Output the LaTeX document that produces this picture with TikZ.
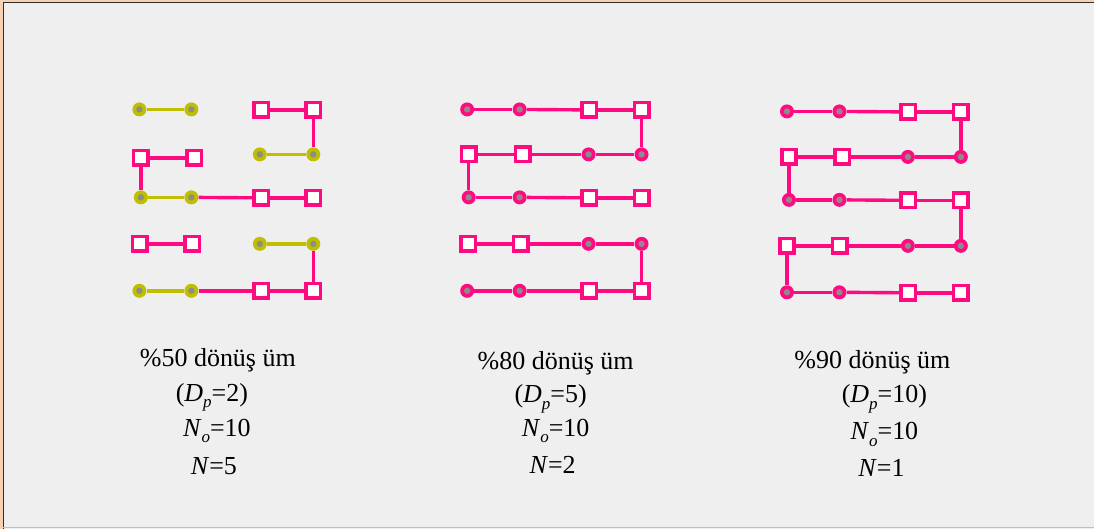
\documentclass[tikz,border=0pt]{standalone}
\usepackage{fontspec}
\setmainfont{Liberation Serif}
\definecolor{bg}{HTML}{EFEFEF}
\definecolor{rose}{HTML}{FF0A80}
\definecolor{olive}{HTML}{BFBF00}
\definecolor{core}{HTML}{8C8C8C}
\definecolor{frame}{HTML}{2F2F2F}
\definecolor{rim}{HTML}{F6D2B4}
\newcommand{\lowidx}[1]{\raisebox{-6.5pt}{\fontsize{17}{17}\selectfont\itshape #1}}
\tikzset{
  sq/.style={rectangle, draw=rose, fill=white, line width=3.6pt, minimum size=14.5pt, inner sep=0pt},
  dotbase/.style={circle, minimum size=14pt, inner sep=0pt,
    path picture={\fill[core] (path picture bounding box.center) circle (3.2pt);}},
  cy/.style={dotbase, fill=olive},
  cp/.style={dotbase, fill=rose},
  lp/.style={draw=rose, line width=3.4pt},
  ly/.style={draw=olive, line width=3.4pt},
  lbl/.style={anchor=base, inner sep=0pt, font=\fontsize{26}{30}\selectfont}
}
\begin{document}
\begin{tikzpicture}[x=1pt, y=-1pt]
% page and frame
\fill[rim] (0,0) rectangle (1095,529);
\fill[bg] (3,2) rectangle (1095,529);
\draw[frame, line width=1.2pt] (3.6,529) -- (3.6,2.6) -- (1095,2.6);
\draw[black!25, line width=1.5pt] (3,528) -- (1095,528);
\useasboundingbox (0,0) rectangle (1095,529);

% ---------- 50% conversion ----------
\node[cy] (a11) at (139.5,109.5) {};
\node[cy] (a12) at (191.5,109.5) {};
\node[sq] (a13) at (261.5,110) {};
\node[sq] (a14) at (313.5,110) {};
\node[sq] (a21) at (141,158) {};
\node[sq] (a22) at (194.5,158) {};
\node[cy] (a23) at (260,154.5) {};
\node[cy] (a24) at (313.5,154.5) {};
\node[cy] (a31) at (141,197.5) {};
\node[cy] (a32) at (191.5,197.5) {};
\node[sq] (a33) at (261.5,198) {};
\node[sq] (a34) at (313.5,198) {};
\node[sq] (a41) at (140,244) {};
\node[sq] (a42) at (192.5,244) {};
\node[cy] (a43) at (260,244) {};
\node[cy] (a44) at (313.5,244) {};
\node[cy] (a51) at (139.5,291) {};
\node[cy] (a52) at (191.5,291) {};
\node[sq] (a53) at (261.5,291) {};
\node[sq] (a54) at (313.5,291) {};
\draw[ly] (a11) -- (a12);
\draw[lp] (a13) -- (a14);
\draw[lp] (a14) -- (a24);
\draw[lp] (a21) -- (a22);
\draw[ly] (a23) -- (a24);
\draw[lp] (a21) -- (a31);
\draw[ly] (a31) -- (a32);
\draw[lp] (a32) -- (a33);
\draw[lp] (a33) -- (a34);
\draw[lp] (a41) -- (a42);
\draw[ly] (a43) -- (a44);
\draw[lp] (a44) -- (a54);
\draw[ly] (a51) -- (a52);
\draw[lp] (a52) -- (a53);
\draw[lp] (a53) -- (a54);

\node[lbl] (ta1) at (218,366.5) {\%50 dönüş üm};
\node[lbl] (ta2) at (212,401.5) {(\textit{D}\lowidx{p}=2)};
\node[lbl] (ta3) at (217,436.5) {\textit{N}\lowidx{o}=10};
\node[lbl] (ta4) at (214,475) {\textit{N}=5};

% ---------- 80% conversion ----------
\node[cp] (b11) at (467.5,109.5) {};
\node[cp] (b12) at (520,109.5) {};
\node[sq] (b13) at (589.5,110) {};
\node[sq] (b14) at (642,110) {};
\node[sq] (b21) at (469,154.5) {};
\node[sq] (b22) at (523,154.5) {};
\node[cp] (b23) at (589,154.5) {};
\node[cp] (b24) at (642,154.5) {};
\node[cp] (b31) at (469,197.5) {};
\node[cp] (b32) at (520,197.5) {};
\node[sq] (b33) at (589.5,198) {};
\node[sq] (b34) at (642,198) {};
\node[sq] (b41) at (468.5,244) {};
\node[sq] (b42) at (521,244) {};
\node[cp] (b43) at (589,244) {};
\node[cp] (b44) at (642,244) {};
\node[cp] (b51) at (467.5,291) {};
\node[cp] (b52) at (520,291) {};
\node[sq] (b53) at (589.5,291) {};
\node[sq] (b54) at (642,291) {};
\draw[lp] (b11) -- (b12);
\draw[lp] (b12) -- (b13);
\draw[lp] (b13) -- (b14);
\draw[lp] (b14) -- (b24);
\draw[lp] (b21) -- (b22);
\draw[lp] (b22) -- (b23);
\draw[lp] (b23) -- (b24);
\draw[lp] (b21) -- (b31);
\draw[lp] (b31) -- (b32);
\draw[lp] (b32) -- (b33);
\draw[lp] (b33) -- (b34);
\draw[lp] (b41) -- (b42);
\draw[lp] (b42) -- (b43);
\draw[lp] (b43) -- (b44);
\draw[lp] (b44) -- (b54);
\draw[lp] (b51) -- (b52);
\draw[lp] (b52) -- (b53);
\draw[lp] (b53) -- (b54);

\node[lbl] (tb1) at (556,370) {\%80 dönüş üm};
\node[lbl] (tb2) at (551,403) {(\textit{D}\lowidx{p}=5)};
\node[lbl] (tb3) at (556,436.5) {\textit{N}\lowidx{o}=10};
\node[lbl] (tb4) at (553,473.5) {\textit{N}=2};

% ---------- 90% conversion ----------
\node[cp] (c11) at (787.5,111.5) {};
\node[cp] (c12) at (840,111.5) {};
\node[sq] (c13) at (909,112) {};
\node[sq] (c14) at (961.5,112) {};
\node[sq] (c21) at (789.5,157) {};
\node[sq] (c22) at (843,157) {};
\node[cp] (c23) at (908.5,157) {};
\node[cp] (c24) at (961.5,157) {};
\node[cp] (c31) at (789.5,200) {};
\node[cp] (c32) at (840,200) {};
\node[sq] (c33) at (909,200.5) {};
\node[sq] (c34) at (961.5,200.5) {};
\node[sq] (c41) at (787.5,246) {};
\node[sq] (c42) at (840.5,246) {};
\node[cp] (c43) at (908.5,246) {};
\node[cp] (c44) at (961.5,246) {};
\node[cp] (c51) at (787.5,292.5) {};
\node[cp] (c52) at (840,292.5) {};
\node[sq] (c53) at (909,293) {};
\node[sq] (c54) at (961.5,293) {};
\draw[lp] (c11) -- (c12);
\draw[lp] (c12) -- (c13);
\draw[lp] (c13) -- (c14);
\draw[lp] (c14) -- (c24);
\draw[lp] (c21) -- (c22);
\draw[lp] (c22) -- (c23);
\draw[lp] (c23) -- (c24);
\draw[lp] (c21) -- (c31);
\draw[lp] (c31) -- (c32);
\draw[lp] (c32) -- (c33);
\draw[lp] (c33) -- (c34);
\draw[lp] (c34) -- (c44);
\draw[lp] (c41) -- (c42);
\draw[lp] (c42) -- (c43);
\draw[lp] (c43) -- (c44);
\draw[lp] (c41) -- (c51);
\draw[lp] (c51) -- (c52);
\draw[lp] (c52) -- (c53);
\draw[lp] (c53) -- (c54);

\node[lbl] (tc1) at (873,369) {\%90 dönüş üm};
\node[lbl] (tc2) at (885,403) {(\textit{D}\lowidx{p}=10)};
\node[lbl] (tc3) at (885,440) {\textit{N}\lowidx{o}=10};
\node[lbl] (tc4) at (882,476.5) {\textit{N}=1};
\end{tikzpicture}
\end{document}
